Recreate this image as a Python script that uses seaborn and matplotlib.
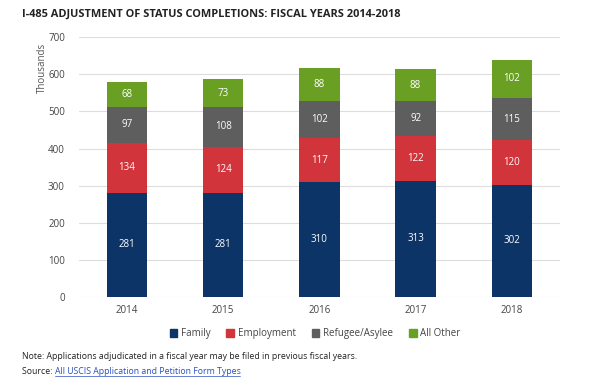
import matplotlib
matplotlib.use("Agg")
import matplotlib.pyplot as plt
import seaborn as sns
import pandas as pd
from matplotlib.patches import Patch

years = ["2014", "2015", "2016", "2017", "2018"]
family = [281, 281, 310, 313, 302]
employment = [134, 124, 117, 122, 120]
refugee = [97, 108, 102, 92, 115]
all_other = [68, 73, 88, 88, 102]

series = ["Family", "Employment", "Refugee/Asylee", "All Other"]
colors = ["#0c3466", "#d1343b", "#5e5e5e", "#69a024"]
values = [family, employment, refugee, all_other]

sns.set_theme(style="white")
plt.rcParams["font.family"] = ["Open Sans", "DejaVu Sans"]

fig = plt.figure(figsize=(6.06, 3.83), dpi=100)
ax = fig.add_axes([0.130, 0.2245, 0.794, 0.6785])

df = pd.DataFrame({"year": years})
bottom = [0] * len(years)
for name, vals, col in zip(series, values, colors):
    df["v"] = vals
    sns.barplot(data=df, x="year", y="v", color=col, width=0.42,
                bottom=bottom, ax=ax, saturation=1, zorder=3,
                linewidth=0, edgecolor="none")
    for i, v in enumerate(vals):
        ax.text(i, bottom[i] + v / 2, str(v), ha="center", va="center",
                color="white", fontsize=7, zorder=4)
    bottom = [b + v for b, v in zip(bottom, vals)]

ax.set_ylim(0, 700)
ax.set_xlim(-0.5, 4.5)
ax.set_yticks(range(0, 701, 100))
ax.yaxis.grid(True, color="#dddddd", linewidth=0.8, zorder=0)
for s in ax.spines.values():
    s.set_visible(False)
ax.tick_params(axis="both", labelsize=7, colors="#444444", length=0, pad=10)
ax.tick_params(axis="x", pad=6)
ax.set_xlabel("")
ax.set_ylabel("Thousands", fontsize=7, color="#555555")
ax.yaxis.set_label_coords(-0.065, 0.88)

handles = [Patch(color=c, label=n) for n, c in zip(series, colors)]
fig.legend(handles=handles, loc="center", bbox_to_anchor=(0.52, 0.128), ncol=4,
           frameon=False, fontsize=7, handlelength=0.8, handleheight=0.8,
           handletextpad=0.4, columnspacing=1.6, labelcolor="#444444")

fig.text(0.036, 0.963, "I-485 ADJUSTMENT OF STATUS COMPLETIONS: FISCAL YEARS 2014-2018",
         fontsize=7.9, fontweight="bold", color="#222222", va="center")
fig.text(0.036, 0.07, "Note: Applications adjudicated in a fiscal year may be filed in previous fiscal years.",
         fontsize=6.3, color="#222222", va="center")
src = fig.text(0.036, 0.031, "Source: ", fontsize=6.3, color="#222222", va="center")
r = fig.canvas.get_renderer()
x0 = src.get_window_extent(r).x1 / fig.bbox.width
link = fig.text(x0, 0.031, "All USCIS Application and Petition Form Types",
                fontsize=6.3, color="#2a4fbf", va="center")
x1 = link.get_window_extent(r).x1 / fig.bbox.width
fig.add_artist(plt.Line2D([x0, x1], [0.018, 0.018], color="#2a4fbf", linewidth=0.5))

fig.savefig("out.png", dpi=100)
